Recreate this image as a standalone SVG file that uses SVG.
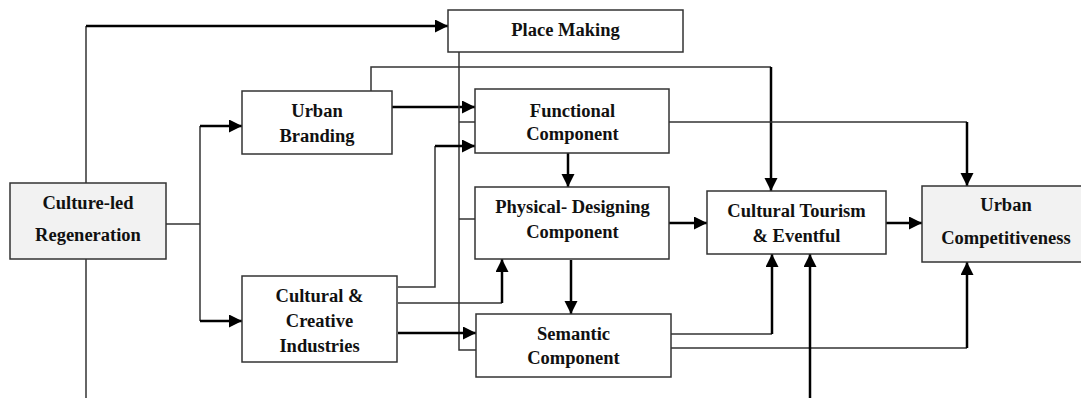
<svg xmlns="http://www.w3.org/2000/svg" width="1081" height="398" viewBox="0 0 1081 398">
<style>
  .box { fill: #ffffff; stroke: #333333; stroke-width: 1.5; }
  .grey { fill: #f2f2f2; }
  .lbl { font-family: "Liberation Serif", "Times New Roman", serif; font-weight: bold; font-size: 18.5px; fill: #111111; text-anchor: middle; }
  .thin { fill: none; stroke: #333333; stroke-width: 1.5; }
  .thick { fill: none; stroke: #000000; stroke-width: 2.5; }
  .arr { marker-end: url(#ah); }
</style>
<defs>
  <marker id="ah" markerUnits="userSpaceOnUse" markerWidth="14" markerHeight="14" refX="13" refY="6.5" orient="auto">
    <path d="M0,0 L13,6.5 L0,13 Z" fill="#000000"/>
  </marker>
</defs>
<rect width="1081" height="398" fill="#ffffff"/>

<g id="connectors">
  <path class="thin" d="M86,183 V26"/>
  <path class="thick arr" d="M86,26 H448"/>
  <path class="thin" d="M86,259 V398"/>
  <path class="thin" d="M166,224 H200"/>
  <path class="thin" d="M200,126 V321"/>
  <path class="thick arr" d="M200,126 H242"/>
  <path class="thick arr" d="M200,321 H242"/>
  <path class="thick arr" d="M392,107 H475"/>
  <path class="thin" d="M371,91 V67 H771"/>
  <path class="thick arr" d="M771,67 V191"/>
  <path class="thin" d="M459,52 V350 H476"/>
  <path class="thin" d="M459,122 H475"/>
  <path class="thin" d="M459,219 H475"/>
  <path class="thin" d="M398,287 H435 V146"/>
  <path class="thick arr" d="M435,146 H475"/>
  <path class="thin" d="M398,303 H502"/>
  <path class="thick arr" d="M502,303 V259"/>
  <path class="thick arr" d="M398,333 H476"/>
  <path class="thick arr" d="M568,153 V187"/>
  <path class="thick arr" d="M571,260 V314"/>
  <path class="thick arr" d="M669,223 H707"/>
  <path class="thin" d="M669,122 H967"/>
  <path class="thick arr" d="M967,122 V186"/>
  <path class="thin" d="M671,334 H772"/>
  <path class="thick arr" d="M772,334 V254"/>
  <path class="thin" d="M671,348 H967"/>
  <path class="thick arr" d="M967,348 V262"/>
  <path class="thick arr" d="M810,398 V254"/>
  <path class="thick arr" d="M886,223 H922"/>
</g>

<g id="place-making">
  <rect class="box" x="448" y="10" width="235" height="42"/>
  <text class="lbl" x="565.5" y="36">Place Making</text>
</g>
<g id="culture-led-regeneration">
  <rect class="box grey" x="10" y="183" width="156" height="76"/>
  <text class="lbl" x="88" y="208.5">Culture-led</text>
  <text class="lbl" x="88" y="240.5">Regeneration</text>
</g>
<g id="urban-branding">
  <rect class="box" x="242" y="91" width="150" height="63"/>
  <text class="lbl" x="317" y="116.7">Urban</text>
  <text class="lbl" x="317" y="141.7">Branding</text>
</g>
<g id="cultural-creative-industries">
  <rect class="box" x="242" y="276" width="155" height="86"/>
  <text class="lbl" x="319.5" y="301.7">Cultural &amp;</text>
  <text class="lbl" x="319.5" y="326.7">Creative</text>
  <text class="lbl" x="319.5" y="351.7">Industries</text>
</g>
<g id="functional-component">
  <rect class="box" x="475" y="89" width="194" height="64"/>
  <text class="lbl" x="572.5" y="116.7">Functional</text>
  <text class="lbl" x="572.5" y="140">Component</text>
</g>
<g id="physical-designing-component">
  <rect class="box" x="475" y="187" width="194" height="72"/>
  <text class="lbl" x="572.5" y="213.3">Physical- Designing</text>
  <text class="lbl" x="572.5" y="237.7">Component</text>
</g>
<g id="semantic-component">
  <rect class="box" x="476" y="314" width="195" height="63"/>
  <text class="lbl" x="573.5" y="340">Semantic</text>
  <text class="lbl" x="573.5" y="364">Component</text>
</g>
<g id="cultural-tourism-eventful">
  <rect class="box" x="707" y="191" width="179" height="63"/>
  <text class="lbl" x="796.5" y="216.7">Cultural Tourism</text>
  <text class="lbl" x="796.5" y="241.7">&amp; Eventful</text>
</g>
<g id="urban-competitiveness">
  <rect class="box grey" x="922" y="186" width="170" height="76"/>
  <text class="lbl" x="1006" y="210.7">Urban</text>
  <text class="lbl" x="1006" y="244">Competitiveness</text>
</g>
</svg>
